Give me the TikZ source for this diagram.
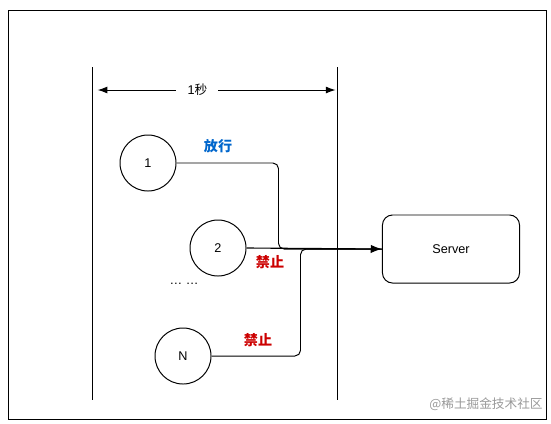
\documentclass[tikz,border=0pt]{standalone}
\usepackage{fontspec}
\setmainfont{Liberation Sans}
\newfontfamily\cjk{Noto Sans CJK SC}
\usepackage{tikz}
\usetikzlibrary{arrows.meta,positioning}
\tikzset{
  req/.style={
    shape = circle,
    draw,
    line width = 0.7pt,
    minimum size = 1.4cm,
    inner sep = 0pt,
    font = \small
  },
  srv/.style={
    shape = rectangle,
    draw,
    rounded corners = 0.25cm,
    line width = 0.7pt,
    minimum width = 3.425cm,
    minimum height = 1.7cm,
    font = \small
  },
}
\tikzset{
  wire/.style={
    line width = 0.7pt,
    rounded corners = 4pt
  },
  pass/.style={
    font = \normalsize\cjk\bfseries,
    text = {rgb,255:red,0;green,102;blue,204},
    inner sep = 1pt
  },
  deny/.style={
    font = \normalsize\cjk\bfseries,
    text = {rgb,255:red,204;green,0;blue,0},
    inner sep = 1pt
  }
}
\begin{document}
\begin{tikzpicture}[x=0.025cm,y=-0.025cm]
    \useasboundingbox (0,0) rectangle (551,423);
    \draw[line width=0.7pt] (8,10) rectangle (546,419);
    % window of one second
    \coordinate (wl) at (92,67);
    \coordinate (wr) at (337,67);
    \draw[line width=0.7pt] (wl) --++ (0,333);
    \draw[line width=0.7pt] (wr) --++ (0,333);
    \draw[line width=0.7pt, {Latex[length=7pt,width=5pt]}-{Latex[length=7pt,width=5pt]}, shorten <=4pt, shorten >=1pt]
        ([yshift=-0.575cm]wl) -- ([yshift=-0.575cm]wr)
        node[pos=0.43, fill=white, font=\small, inner xsep=8pt] (sec) {1{\cjk 秒}};
    % requests
    \node[req] (r1) at (148,163) {1};
    \node[req] (r2) at (218,248) {2};
    \node[req] (rn) at (183,356) {N};
    \node[font=\small] (dots) at (184,284) {\dots\ \dots};
    \node[srv] (server) at (451,249) {Server};
    % wires
    \draw[wire] (r1.east) --++ (102,0) |- (server.west);
    \draw[wire] (rn.east) --++ (89,0) |- (server.west);
    \draw[line width=0.8pt, -{Latex[length=8pt,width=6pt]}] (r2.east) -- (server.west);
    \node[pass] (ok) at (218,146) {放行};
    \node[deny] (no2) at (270,262) {禁止};
    \node[deny] (non) at (258,340) {禁止};
    \node[font=\small\cjk, text=black!40] (mark) at (486,404) {@稀土掘金技术社区};
\end{tikzpicture}
\end{document}
